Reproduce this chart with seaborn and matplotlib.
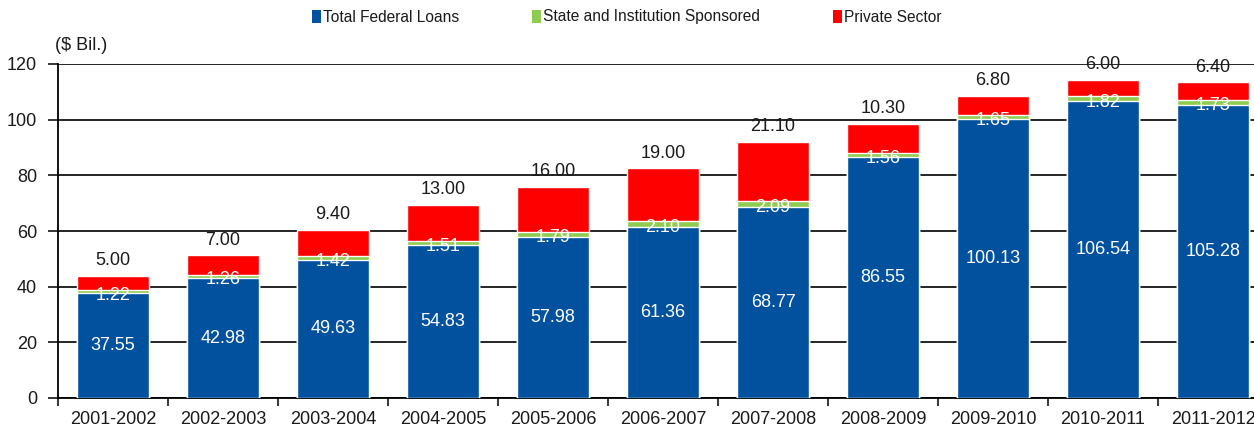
import matplotlib
matplotlib.use("Agg")
import matplotlib.pyplot as plt
import seaborn as sns
import numpy as np
import pandas as pd
from matplotlib.patches import Patch
from matplotlib.ticker import FixedLocator
from matplotlib import font_manager

years = ["2001-2002", "2002-2003", "2003-2004", "2004-2005", "2005-2006", "2006-2007",
         "2007-2008", "2008-2009", "2009-2010", "2010-2011", "2011-2012"]
federal = [37.55, 42.98, 49.63, 54.83, 57.98, 61.36, 68.77, 86.55, 100.13, 106.54, 105.28]
state = [1.22, 1.26, 1.42, 1.51, 1.79, 2.10, 2.09, 1.56, 1.65, 1.82, 1.73]
private = [5.00, 7.00, 9.40, 13.00, 16.00, 19.00, 21.10, 10.30, 6.80, 6.00, 6.40]
series_names = ["Total Federal Loans", "State and Institution Sponsored", "Private Sector"]

BLUE = "#02519F"
GREEN = "#8FCB4F"
RED = "#FF0000"
TXT = "#1a1a1a"

sns.set_style("white")
names = {f.name for f in font_manager.fontManager.ttflist}
fam = "Liberation Sans Narrow" if "Liberation Sans Narrow" in names else "Liberation Sans"
plt.rcParams["font.family"] = [fam, "DejaVu Sans"]

df = pd.DataFrame({"year": years, "federal": federal, "state": state, "private": private})
df["fs"] = df["federal"] + df["state"]
df["total"] = df["fs"] + df["private"]

fig = plt.figure(figsize=(12.54, 4.33), dpi=100)
ax = fig.add_axes([58 / 1254, 1 - 398 / 433, 1210 / 1254, 334 / 433])

w = 0.66
sns.barplot(data=df, x="year", y="total", color=RED, width=w, saturation=1, ax=ax, zorder=3)
sns.barplot(data=df, x="year", y="fs", color=GREEN, width=w, saturation=1, ax=ax, zorder=3)
sns.barplot(data=df, x="year", y="federal", color=BLUE, width=w, saturation=1, ax=ax, zorder=3)

ax.set_ylim(0, 120)
ax.set_xlim(-0.5, len(years) - 0.5)
ax.set_yticks(np.arange(0, 121, 20))
ax.yaxis.grid(True, color="black", linewidth=1.2, zorder=0)
ax.set_axisbelow(True)
ax.set_xlabel("")
ax.set_ylabel("")

for s in ["top", "right"]:
    ax.spines[s].set_visible(False)
for s in ["left", "bottom"]:
    ax.spines[s].set_color("black")
    ax.spines[s].set_linewidth(1.3)

ax.tick_params(axis="y", which="major", direction="out", length=7, width=1.1,
               color="black", labelsize=13, labelcolor=TXT, pad=8, left=True)
ax.tick_params(axis="x", which="major", length=0, labelsize=13, labelcolor=TXT, pad=9)
ax.xaxis.set_minor_locator(FixedLocator(np.arange(-0.5, len(years), 1.0)))
ax.tick_params(axis="x", which="minor", direction="out", length=6, width=1.1,
               color="black", bottom=True)

for i in range(len(years)):
    ax.text(i, federal[i] / 2, f"{federal[i]:.2f}", ha="center", va="center",
            color="white", fontsize=13, zorder=5)
    ax.text(i, federal[i] + state[i] / 2 - 1.2, f"{state[i]:.2f}", ha="center", va="center",
            color="white", fontsize=13, zorder=5)
    ax.annotate(f"{private[i]:.2f}", (i, df["total"][i]), xytext=(0, 11),
                textcoords="offset points", ha="center", va="center",
                color=TXT, fontsize=13, zorder=5, annotation_clip=False)

fig.text(55 / 1254, 1 - 45 / 433, "($ Bil.)", ha="left", va="center", fontsize=13, color=TXT)

handles = [Patch(facecolor=c, edgecolor="none") for c in [BLUE, GREEN, RED]]
fig.legend(handles, series_names, loc="center", bbox_to_anchor=(627 / 1254, 1 - 17 / 433),
           ncol=3, frameon=False, fontsize=11.2, handlelength=0.55, handleheight=0.9,
           handletextpad=0.15, columnspacing=4.7, labelcolor=TXT)

fig.savefig("out.png", dpi=100)
